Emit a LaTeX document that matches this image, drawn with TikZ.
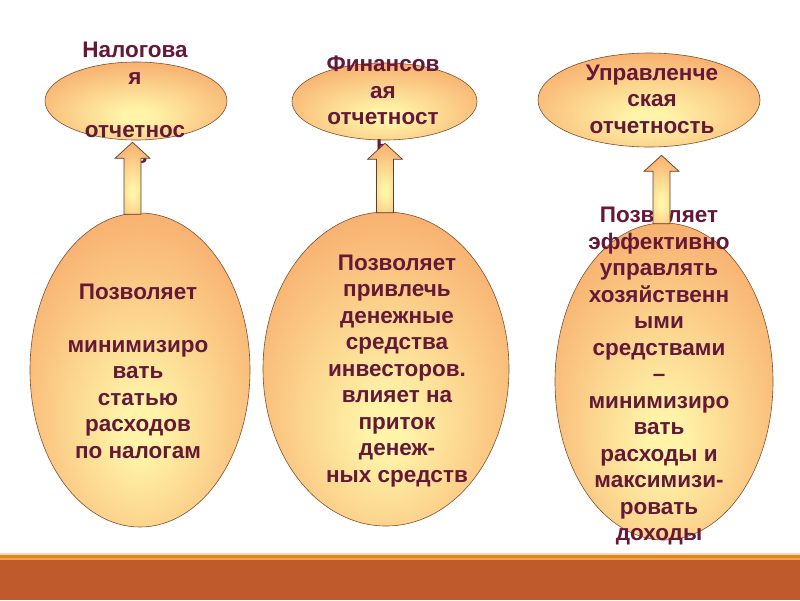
\documentclass[tikz,border=0pt]{standalone}
\usepackage{fontspec}
\setmainfont{Liberation Sans}
\usetikzlibrary{shapes.geometric,calc}
\definecolor{ovallight}{HTML}{FFF4A8}
\definecolor{ovaldark}{HTML}{F6A062}
\definecolor{oval-line}{HTML}{805030}
\definecolor{arrow-line}{HTML}{5E4030}
\definecolor{txt-red}{HTML}{651837}
\definecolor{bar-main}{HTML}{BF5A2D}
\definecolor{bar-stripe}{HTML}{E2871F}
\definecolor{bar-light}{HTML}{F0A24C}
\definecolor{bar-edge}{HTML}{F8D8B0}
\pgfdeclareradialshading{ovalshade}{\pgfpoint{0bp}{-10bp}}{color(0bp)=(ovallight); color(4bp)=(ovallight); color(38bp)=(ovaldark); color(80bp)=(ovaldark)}

\begin{document}
\begin{tikzpicture}[x=1pt,y=-1pt,
  oval/.style={ellipse,shade,shading=ovalshade,draw=oval-line,line width=0.6pt,inner sep=0pt},
  txt/.style={align=center,text=txt-red,inner sep=0pt,font=\fontsize{22.5}{26.5}\selectfont\bfseries},
  blockarrow/.style={shade,shading=ovalshade,draw=arrow-line,line width=0.7pt,
    to path={let \p1=(\tikztostart),\p2=(\tikztotarget) in
      (\x1-8.5pt,\y1) -- (\x1-8.5pt,\y2-16pt) -- (\x1-17.5pt,\y2-16pt) -- (\x1,\y2)
      -- (\x1+17.5pt,\y2-16pt) -- (\x1+8.5pt,\y2-16pt) -- (\x1+8.5pt,\y1) -- cycle}}]
  \useasboundingbox (0,0) rectangle (800,600);
  \fill[white] (0,0) rectangle (800,600);
  % footer band
  \fill[bar-edge] (0,553) rectangle (800,554.5);
  \fill[bar-stripe] (0,554.5) rectangle (800,558);
  \fill[bar-light] (0,558) rectangle (800,560);
  \fill[bar-main] (0,560) rectangle (800,600);

  % report types
  \node[oval,minimum width=182pt,minimum height=78pt] (nalog) at (136,101) {};
  \node[oval,minimum width=185pt,minimum height=77pt] (fin) at (384.5,101.5) {};
  \node[oval,minimum width=222pt,minimum height=94pt] (upr) at (649,100) {};
  \node[txt] (nalogtxt) at (135,103) {Налогова\\я\\~\\отчетнос\\ть};
  \node[txt] (fintxt) at (383,103.5) {Финансов\\ая\\отчетност\\ь};
  \node[txt] (uprtxt) at (652,99) {Управленче\\ская\\отчетность};

  % what each one gives
  \node[oval,minimum width=220pt,minimum height=314pt] (nalogdesc) at (140,370) {};
  \node[oval,minimum width=246pt,minimum height=314pt] (findesc) at (386,369) {};
  \node[oval,minimum width=218pt,minimum height=317pt] (uprdesc) at (664,381.5) {};
  \node[txt] (nalogdesctxt) at (138,371) {Позволяет\\~\\минимизиро\\вать\\статью\\расходов\\по налогам};
  \node[txt] (findesctxt) at (397,371) {Позволяет\\привлечь\\денежные\\средства\\инвесторов.\\влияет на\\приток\\денеж-\\ных средств};
  \node[txt] (uprdesctxt) at (659,376) {Позволяет\\эффективно\\управлять\\хозяйственн\\ыми\\средствами\\–\\минимизиро\\вать\\расходы и\\максимизи-\\ровать\\доходы};

  % arrows on top
  \draw[blockarrow] ([xshift=-7.5pt,yshift=-1.5pt]nalogdesc.north) to ([yshift=-2pt]nalog.south);
  \draw[blockarrow] ([xshift=-1pt,yshift=-1pt]findesc.north) to ([yshift=-3pt]fin.south);
  \draw[blockarrow] ([xshift=-2.5pt,yshift=-1pt]uprdesc.north) to ([yshift=-8pt]upr.south);
\end{tikzpicture}
\end{document}
